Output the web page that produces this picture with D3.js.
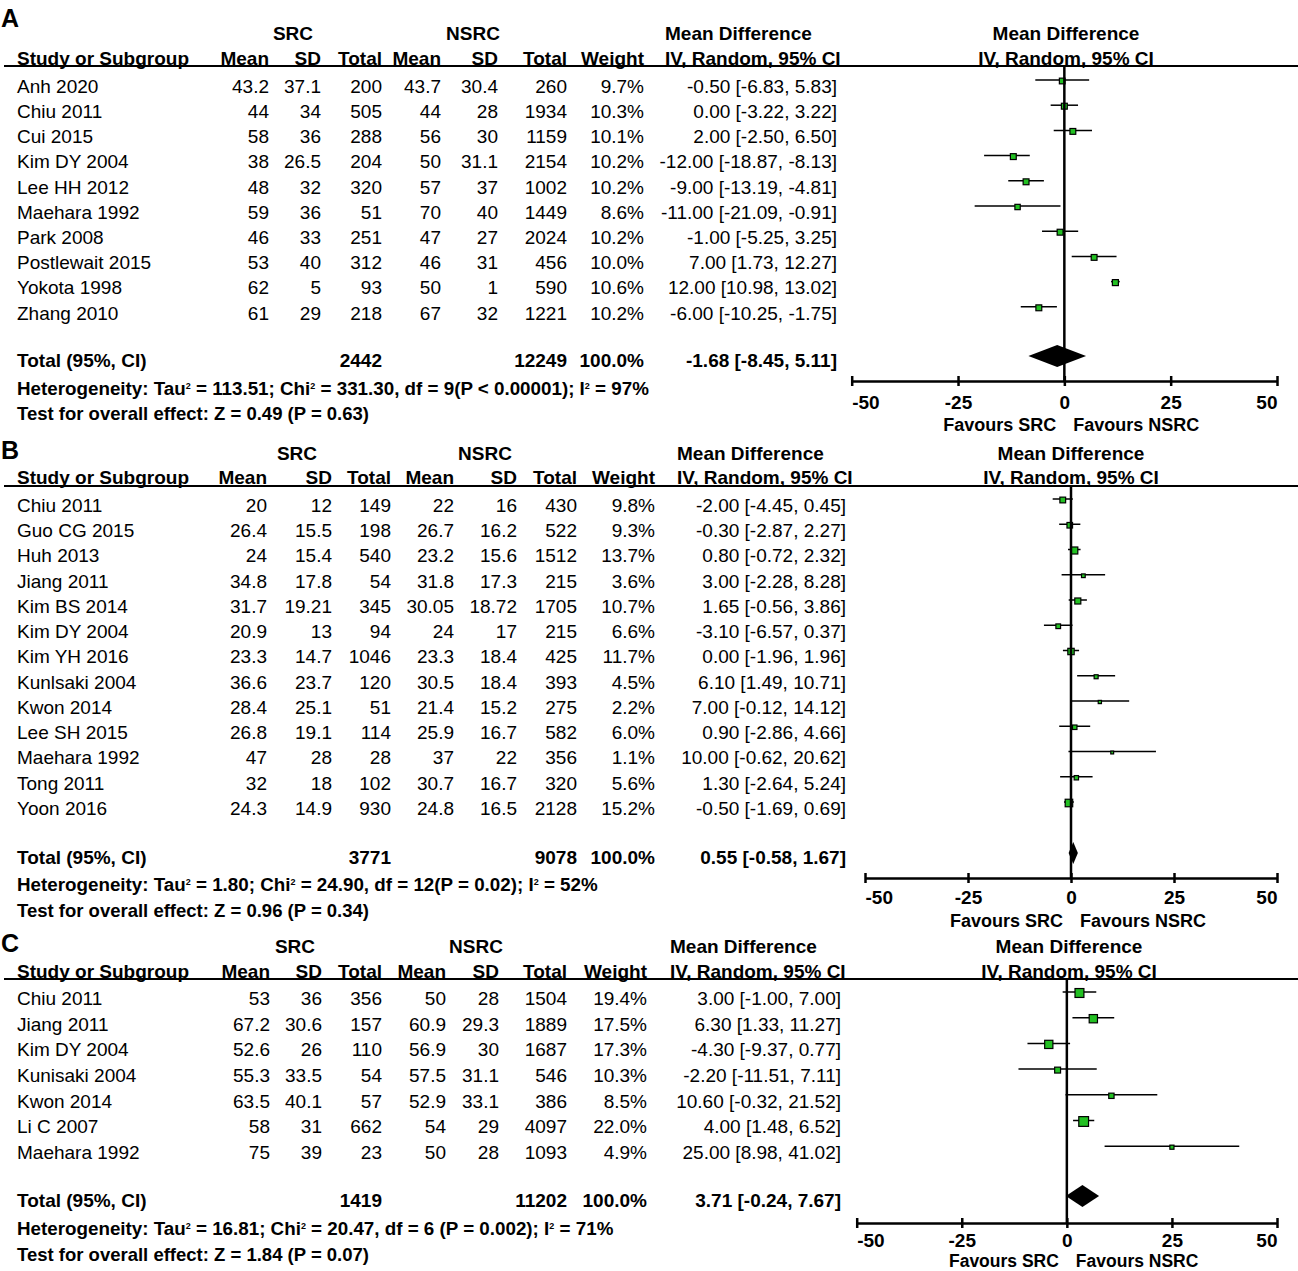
<!DOCTYPE html>
<html>
<head>
<meta charset="utf-8">
<script src="https://d3js.org/d3.v7.min.js"></script>
<style>
  body { margin: 0; background: #fff; }
  svg { display: block; }
  text { font-family: 'Liberation Sans', Arial, sans-serif; fill: #000; }
</style>
</head>
<body>
<svg id="chart" width="1298" height="1271"></svg>
<script>
// ---- Panel A data ----
const studiesA = ['Anh 2020', 'Chiu 2011', 'Cui 2015', 'Kim DY 2004', 'Lee HH 2012', 'Maehara 1992', 'Park 2008', 'Postlewait 2015', 'Yokota 1998', 'Zhang 2010'];
const srcMeanA = [43.2, 44, 58, 38, 48, 59, 46, 53, 62, 61];
const srcSdA = [37.1, 34, 36, 26.5, 32, 36, 33, 40, 5, 29];
const srcTotalA = [200, 505, 288, 204, 320, 51, 251, 312, 93, 218];
const nsrcMeanA = [43.7, 44, 56, 50, 57, 70, 47, 46, 50, 67];
const nsrcSdA = [30.4, 28, 30, 31.1, 37, 40, 27, 31, 1, 32];
const nsrcTotalA = [260, 1934, 1159, 2154, 1002, 1449, 2024, 456, 590, 1221];
const weightA = [9.7, 10.3, 10.1, 10.2, 10.2, 8.6, 10.2, 10.0, 10.6, 10.2];
const mdA = [-0.50, 0.00, 2.00, -12.00, -9.00, -11.00, -1.00, 7.00, 12.00, -6.00];
const lowA = [-6.83, -3.22, -2.50, -18.87, -13.19, -21.09, -5.25, 1.73, 10.98, -10.25];
const highA = [5.83, 3.22, 6.50, -8.13, -4.81, -0.91, 3.25, 12.27, 13.02, -1.75];
const totalA = { src: 2442, nsrc: 12249, md: -1.68, low: -8.45, high: 5.11 };
const hetA = ['Heterogeneity: Tau', ' = 113.51; Chi', ' = 331.30, df = 9(P < 0.00001); I', ' = 97%'];
const testA = 'Test for overall effect: Z = 0.49 (P = 0.63)';

// ---- Panel B data ----
const studiesB = ['Chiu 2011', 'Guo CG 2015', 'Huh 2013', 'Jiang 2011', 'Kim BS 2014', 'Kim DY 2004', 'Kim YH 2016', 'Kunlsaki 2004', 'Kwon 2014', 'Lee SH 2015', 'Maehara 1992', 'Tong 2011', 'Yoon 2016'];
const srcMeanB = [20, 26.4, 24, 34.8, 31.7, 20.9, 23.3, 36.6, 28.4, 26.8, 47, 32, 24.3];
const srcSdB = [12, 15.5, 15.4, 17.8, 19.21, 13, 14.7, 23.7, 25.1, 19.1, 28, 18, 14.9];
const srcTotalB = [149, 198, 540, 54, 345, 94, 1046, 120, 51, 114, 28, 102, 930];
const nsrcMeanB = [22, 26.7, 23.2, 31.8, 30.05, 24, 23.3, 30.5, 21.4, 25.9, 37, 30.7, 24.8];
const nsrcSdB = [16, 16.2, 15.6, 17.3, 18.72, 17, 18.4, 18.4, 15.2, 16.7, 22, 16.7, 16.5];
const nsrcTotalB = [430, 522, 1512, 215, 1705, 215, 425, 393, 275, 582, 356, 320, 2128];
const weightB = [9.8, 9.3, 13.7, 3.6, 10.7, 6.6, 11.7, 4.5, 2.2, 6.0, 1.1, 5.6, 15.2];
const mdB = [-2.00, -0.30, 0.80, 3.00, 1.65, -3.10, 0.00, 6.10, 7.00, 0.90, 10.00, 1.30, -0.50];
const lowB = [-4.45, -2.87, -0.72, -2.28, -0.56, -6.57, -1.96, 1.49, -0.12, -2.86, -0.62, -2.64, -1.69];
const highB = [0.45, 2.27, 2.32, 8.28, 3.86, 0.37, 1.96, 10.71, 14.12, 4.66, 20.62, 5.24, 0.69];
const totalB = { src: 3771, nsrc: 9078, md: 0.55, low: -0.58, high: 1.67 };
const hetB = ['Heterogeneity: Tau', ' = 1.80; Chi', ' = 24.90, df = 12(P = 0.02); I', ' = 52%'];
const testB = 'Test for overall effect: Z = 0.96 (P = 0.34)';

// ---- Panel C data ----
const studiesC = ['Chiu 2011', 'Jiang 2011', 'Kim DY 2004', 'Kunisaki 2004', 'Kwon 2014', 'Li C 2007', 'Maehara 1992'];
const srcMeanC = [53, 67.2, 52.6, 55.3, 63.5, 58, 75];
const srcSdC = [36, 30.6, 26, 33.5, 40.1, 31, 39];
const srcTotalC = [356, 157, 110, 54, 57, 662, 23];
const nsrcMeanC = [50, 60.9, 56.9, 57.5, 52.9, 54, 50];
const nsrcSdC = [28, 29.3, 30, 31.1, 33.1, 29, 28];
const nsrcTotalC = [1504, 1889, 1687, 546, 386, 4097, 1093];
const weightC = [19.4, 17.5, 17.3, 10.3, 8.5, 22.0, 4.9];
const mdC = [3.00, 6.30, -4.30, -2.20, 10.60, 4.00, 25.00];
const lowC = [-1.00, 1.33, -9.37, -11.51, -0.32, 1.48, 8.98];
const highC = [7.00, 11.27, 0.77, 7.11, 21.52, 6.52, 41.02];
const totalC = { src: 1419, nsrc: 11202, md: 3.71, low: -0.24, high: 7.67 };
const hetC = ['Heterogeneity: Tau', ' = 16.81; Chi', ' = 20.47, df = 6 (P = 0.002); I', ' = 71%'];
const testC = 'Test for overall effect: Z = 1.84 (P = 0.07)';

const tickValues = [-50, -25, 0, 25, 50];
const colHeads = ['Mean', 'SD', 'Total', 'Mean', 'SD', 'Total', 'Weight'];

// build rows for each panel
function buildRows(s, a, b, c, d, e, f, w, md, lo, hi) {
  return s.map((name, i) => ({ name, cells: [a[i], b[i], c[i], d[i], e[i], f[i]], w: w[i], md: md[i], lo: lo[i], hi: hi[i] }));
}

const panels = [
  { letter: 'A', rows: buildRows(studiesA, srcMeanA, srcSdA, srcTotalA, nsrcMeanA, nsrcSdA, nsrcTotalA, weightA, mdA, lowA, highA),
    total: totalA, het: hetA, test: testA,
    letterY: 20, groupY: 33, headY: 58, lineY: 66, row0: 86, step: 25.2, totalY: 360, hetY: 388, testY: 413,
    srcX: 293, nsrcX: 473, cols: [269, 321, 382, 441, 498, 567, 644], ciRight: 837, mdLeft: 665, plotMid: 1066,
    range: [851.7, 1277], axisY: 381, tickY: 402, favY: 424, favSize: 18 },
  { letter: 'B', rows: buildRows(studiesB, srcMeanB, srcSdB, srcTotalB, nsrcMeanB, nsrcSdB, nsrcTotalB, weightB, mdB, lowB, highB),
    total: totalB, het: hetB, test: testB,
    letterY: 452, groupY: 453, headY: 477, lineY: 486, row0: 505, step: 25.25, totalY: 857, hetY: 884, testY: 910,
    srcX: 297, nsrcX: 485, cols: [267, 332, 391, 454, 517, 577, 655], ciRight: 846, mdLeft: 677, plotMid: 1071,
    range: [865, 1277], axisY: 878, tickY: 897, favY: 920, favSize: 18 },
  { letter: 'C', rows: buildRows(studiesC, srcMeanC, srcSdC, srcTotalC, nsrcMeanC, nsrcSdC, nsrcTotalC, weightC, mdC, lowC, highC),
    total: totalC, het: hetC, test: testC,
    letterY: 945, groupY: 946, headY: 971, lineY: 979, row0: 998, step: 25.7, totalY: 1200, hetY: 1228, testY: 1254,
    srcX: 295, nsrcX: 476, cols: [270, 322, 382, 446, 499, 567, 647], ciRight: 841, mdLeft: 670, plotMid: 1069,
    range: [856.7, 1277], axisY: 1223, tickY: 1240, favY: 1260, favSize: 17.5 }
];

const svg = d3.select('#chart');
const f2 = v => v.toFixed(2);
const f1 = v => v.toFixed(1);
const ciText = (m, l, h) => `${f2(m)} [${f2(l)}, ${f2(h)}]`;
const FS = 19;
const base = cy => cy + 6.8; // baseline from visual centre

// helper: text
function txt(g, x, cy, s, opts = {}) {
  return g.append('text')
    .attr('x', x).attr('y', base(cy))
    .attr('text-anchor', opts.anchor || 'start')
    .style('font-size', (opts.size || FS) + 'px')
    .style('font-weight', opts.bold ? 'bold' : 'normal')
    .text(s);
}

panels.forEach(p => {
  const g = svg.append('g');
  const x = d3.scaleLinear().domain([-50, 50]).range(p.range);

  // panel letter
  txt(g, 1, p.letterY, p.letter, { bold: true, size: 25 });

  // group headers
  txt(g, p.srcX, p.groupY, 'SRC', { bold: true, anchor: 'middle' });
  txt(g, p.nsrcX, p.groupY, 'NSRC', { bold: true, anchor: 'middle' });
  txt(g, p.mdLeft, p.groupY, 'Mean Difference', { bold: true });
  txt(g, p.plotMid, p.groupY, 'Mean Difference', { bold: true, anchor: 'middle' });

  // column headers
  txt(g, 17, p.headY, 'Study or Subgroup', { bold: true });
  colHeads.forEach((h, i) => txt(g, p.cols[i], p.headY, h, { bold: true, anchor: 'end' }));
  txt(g, p.mdLeft, p.headY, 'IV, Random, 95% CI', { bold: true });
  txt(g, p.plotMid, p.headY, 'IV, Random, 95% CI', { bold: true, anchor: 'middle' });

  // header rule
  g.append('line').attr('x1', 4).attr('x2', 1298).attr('y1', p.lineY).attr('y2', p.lineY)
    .attr('stroke', '#000').attr('stroke-width', 2);

  // study rows
  const rowY = i => p.row0 + i * p.step;
  p.rows.forEach((r, i) => {
    const cy = rowY(i);
    txt(g, 17, cy, r.name);
    r.cells.forEach((v, j) => txt(g, p.cols[j], cy, String(v), { anchor: 'end' }));
    txt(g, p.cols[6], cy, f1(r.w) + '%', { anchor: 'end' });
    txt(g, p.ciRight, cy, ciText(r.md, r.lo, r.hi), { anchor: 'end' });
  });

  // total row
  txt(g, 17, p.totalY, 'Total (95%, CI)', { bold: true });
  txt(g, p.cols[2], p.totalY, String(p.total.src), { bold: true, anchor: 'end' });
  txt(g, p.cols[5], p.totalY, String(p.total.nsrc), { bold: true, anchor: 'end' });
  txt(g, p.cols[6], p.totalY, '100.0%', { bold: true, anchor: 'end' });
  txt(g, p.ciRight, p.totalY, ciText(p.total.md, p.total.low, p.total.high), { bold: true, anchor: 'end' });

  // heterogeneity with superscripts
  const het = g.append('text').attr('x', 17).attr('y', base(p.hetY))
    .style('font-size', '19px').style('font-weight', 'bold');
  p.het.forEach((part, k) => {
    het.append('tspan').attr('dy', k === 0 ? 0 : 6).style('font-size', '18.8px').text(part);
    if (k < p.het.length - 1) het.append('tspan').attr('dy', -6).style('font-size', '9px').text('2');
  });
  txt(g, 17, p.testY, p.test, { bold: true, size: 18.5 });

  // forest plot: CI lines and squares
  const sq = g.append('g');
  p.rows.forEach((r, i) => {
    const cy = rowY(i) - 5;
    sq.append('line').attr('x1', x(r.lo)).attr('x2', x(r.hi)).attr('y1', cy - 1).attr('y2', cy - 1)
      .attr('stroke', '#000').attr('stroke-width', 1.5);
    const s = 2.5 + r.w * 0.33;
    sq.append('rect').attr('x', x(r.md) - s / 2).attr('y', cy - s / 2).attr('width', s).attr('height', s)
      .attr('fill', '#22c022').attr('stroke', '#000').attr('stroke-width', 1.2);
  });

  // zero line
  g.append('line').attr('x1', x(0)).attr('x2', x(0)).attr('y1', p.lineY).attr('y2', p.axisY)
    .attr('stroke', '#000').attr('stroke-width', 2.5);

  // pooled diamond
  const dy = p.totalY - 4;
  g.append('path')
    .attr('d', `M${x(p.total.low)},${dy} L${x(p.total.md)},${dy - 11} L${x(p.total.high)},${dy} L${x(p.total.md)},${dy + 11} Z`)
    .attr('fill', '#000');

  // axis
  const ax = g.append('g').attr('transform', `translate(0,${p.axisY})`)
    .call(d3.axisBottom(x).tickValues(tickValues).tickSize(5).tickSizeOuter(0).tickFormat(d => String(d)));
  ax.select('.domain').attr('stroke', '#000').attr('stroke-width', 2.5);
  ax.selectAll('.tick line').attr('y1', -5).attr('y2', 5).attr('stroke', '#000').attr('stroke-width', 2.5);
  ax.selectAll('.tick text')
    .attr('y', base(p.tickY) - p.axisY).attr('dy', 0)
    .attr('text-anchor', (d, i) => i === 0 ? 'start' : (i === tickValues.length - 1 ? 'end' : 'middle'))
    .attr('fill', '#000')
    .style('font-size', '19px').style('font-weight', 'bold')
    .style('font-family', "'Liberation Sans', Arial, sans-serif");

  txt(g, x(0) - 8, p.favY, 'Favours SRC', { bold: true, anchor: 'end', size: p.favSize });
  txt(g, x(0) + 9, p.favY, 'Favours NSRC', { bold: true, size: p.favSize });
});
</script>
</body>
</html>
